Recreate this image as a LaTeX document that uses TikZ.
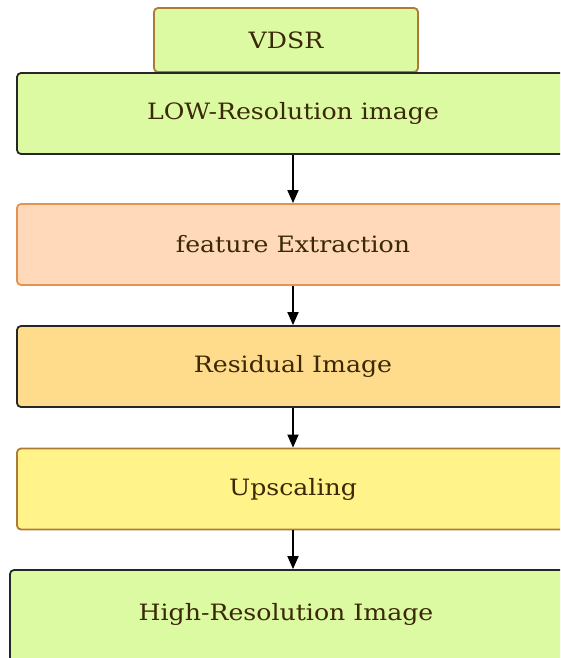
\documentclass[tikz,border=0pt]{standalone}
\usepackage{fontspec}
\setmainfont[FakeStretch=1.12]{DejaVu Serif}
\usetikzlibrary{arrows.meta}
\definecolor{gfill}{HTML}{DCFAA2}
\definecolor{pfill}{HTML}{FFD9B9}
\definecolor{ofill}{HTML}{FFDB8C}
\definecolor{yfill}{HTML}{FFF38A}
\definecolor{brownline}{HTML}{B07A35}
\definecolor{orangeline}{HTML}{E39450}
\definecolor{darkline}{HTML}{262626}
\definecolor{txt}{HTML}{3A2806}
\tikzset{
  stage/.style={draw, rounded corners=4pt, line width=1.8pt, minimum height=81pt,
    minimum width=552pt, inner sep=0pt, text=txt, font=\fontsize{22.5}{25}\selectfont},
  flow/.style={-{Triangle[length=13pt,width=11pt]}, line width=1.8pt, black}
}
\begin{document}
\begin{tikzpicture}[x=1pt,y=-1pt]
\useasboundingbox (0,0) rectangle (560,658);
\clip (0,0) rectangle (560,658);
\node[stage, fill=gfill, draw=brownline, minimum width=264pt, minimum height=64pt] (vdsr) at (286,40) {VDSR};
\node[stage, fill=gfill, draw=darkline] (low) at (293,113.5) {LOW-Resolution image};
\node[stage, fill=pfill, draw=orangeline] (feat) at (293,244.5) {feature Extraction};
\node[stage, fill=ofill, draw=darkline] (res) at (293,366.5) {Residual Image};
\node[stage, fill=yfill, draw=brownline] (up) at (293,489) {Upscaling};
\node[stage, fill=gfill, draw=darkline, minimum width=566pt, minimum height=100pt] (high) at (293,620) {};
\node[text=txt, font=\fontsize{22.5}{25}\selectfont] (hightxt) at (286,614) {High-Resolution Image};
\draw[flow] (low) -- (feat);
\draw[flow] (feat) -- (res);
\draw[flow] (res) -- (up);
\draw[flow] (up.south) -- (high.north -| up.south);
\end{tikzpicture}
\end{document}
